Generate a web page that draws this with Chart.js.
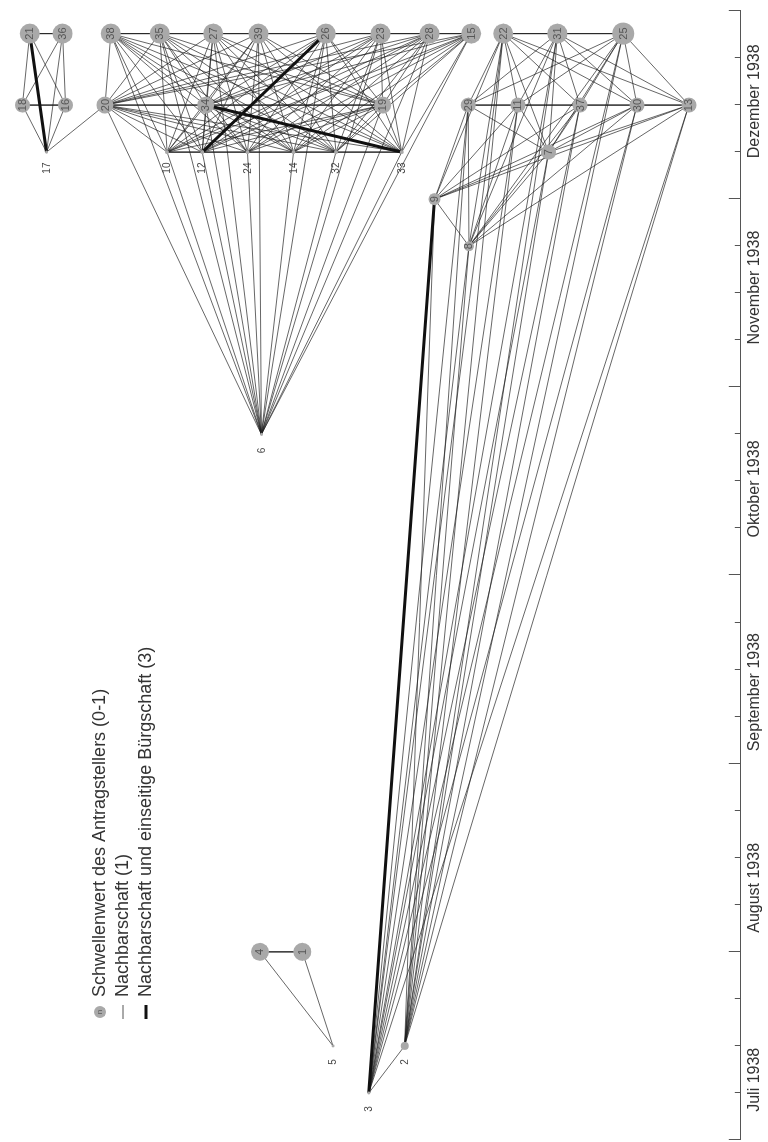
<!DOCTYPE html>
<html>
<head>
<meta charset="utf-8">
<script src="https://cdn.jsdelivr.net/npm/chart.js@4.4.1/dist/chart.umd.min.js"></script>
<style>
    html, body { margin: 0; padding: 0; background: #fff; width: 768px; height: 1142px; overflow: hidden; }
    /* the network is drawn in landscape and turned so that time runs upwards */
    #wrap { position: absolute; left: 0; top: 0; width: 1150px; height: 768px;
            transform-origin: 0 0; transform: translate(0, 1150px) rotate(-90deg); }
</style>
</head>
<body>
<div id="wrap"><canvas id="chart" width="1150" height="768"></canvas></div>
<script>
const monate = ['Juli 1938', 'August 1938', 'September 1938', 'Oktober 1938', 'November 1938', 'Dezember 1938'];
// where the month names sit on the time axis (months from 1 July 1938)
const monatsEtikett = [0.32, 1.34, 2.38, 3.46, 4.53, 5.52];

// Antragsteller: Nummer, Zeitpunkt (Monate ab 1. Juli 1938), Ebene im Layout, Schwellenwert
const knoten = [21, 36, 18, 16, 17, 20, 38, 35, 27, 39, 26, 23, 28, 15, 34, 19, 10, 12, 24, 14, 32, 33, 6,
    22, 31, 25, 29, 11, 37, 30, 13, 7, 9, 8, 2, 3, 4, 1, 5];
const zeit = [5.88, 5.88, 5.5, 5.5, 5.25, 5.5, 5.88, 5.88, 5.88, 5.88, 5.88, 5.88, 5.88, 5.88, 5.5, 5.5,
    5.25, 5.25, 5.25, 5.25, 5.25, 5.25, 3.75,
    5.88, 5.88, 5.88, 5.5, 5.5, 5.5, 5.5, 5.5, 5.25, 5.0, 4.75, 0.5, 0.25, 1.0, 1.0, 0.5];
const ebene = [2.7, 7.2, 1.7, 7.6, 5.0, 13.0, 13.8, 20.5, 27.8, 34.0, 43.2, 50.7, 57.4, 63.1, 26.8, 51.0,
    21.5, 26.3, 32.5, 38.8, 44.6, 53.6, 34.4,
    67.5, 74.9, 83.9, 62.7, 69.5, 78.0, 85.8, 92.9, 73.7, 58.1, 62.8, 54.0, 49.1, 34.2, 40.0, 44.2];
const schwelle = [0.85, 0.85, 0.6, 0.6, 0, 0.7, 0.85, 0.85, 0.85, 0.85, 0.85, 0.85, 0.85, 0.85, 0.7, 0.7,
    0.05, 0.05, 0.05, 0.05, 0.05, 0.05, 0,
    0.85, 0.85, 0.95, 0.6, 0.6, 0.6, 0.6, 0.6, 0.6, 0.45, 0.35, 0.25, 0, 0.75, 0.75, 0];

// Nachbarschaft (1): Knoten und seine Nachbarn
const nachbarschaft = [
    [21, [36, 18, 16]],
    [36, [18, 16, 17]],
    [18, [16, 17]],
    [16, [17]],
    [17, [20]],
    [38, [35, 20, 34, 19, 10, 12, 24, 14, 32, 33, 6]],
    [35, [27, 20, 34, 19, 10, 12, 24, 14, 32, 33, 6]],
    [27, [39, 20, 34, 19, 10, 12, 24, 14, 32, 33, 6]],
    [39, [26, 20, 34, 19, 10, 12, 24, 14, 32, 33, 6]],
    [26, [23, 20, 34, 19, 10, 24, 14, 32, 33, 6]],
    [23, [28, 20, 34, 19, 10, 12, 24, 14, 32, 33, 6]],
    [28, [15, 20, 34, 19, 10, 12, 24, 14, 32, 33, 6]],
    [15, [20, 34, 19, 10, 12, 24, 14, 32, 33, 6]],
    [20, [34, 10, 12, 24, 14, 32, 33, 6]],
    [34, [19, 10, 12, 24, 14, 32, 6]],
    [19, [10, 12, 24, 14, 32, 33, 6]],
    [10, [12, 6]],
    [12, [24, 6]],
    [24, [14, 6]],
    [14, [32, 6]],
    [32, [33, 6]],
    [33, [6]],
    [22, [31, 29, 11, 37, 30, 13, 7, 9, 8, 2, 3]],
    [31, [25, 29, 11, 37, 30, 13, 7, 8, 2, 3]],
    [25, [29, 11, 37, 30, 13, 7, 8, 2, 3]],
    [29, [11, 7, 9, 8, 2, 3]],
    [11, [37, 7, 9, 8, 2, 3]],
    [37, [30, 7, 9, 8, 2, 3]],
    [30, [13, 7, 9, 8, 2, 3]],
    [13, [7, 9, 8, 2, 3]],
    [7, [9, 8, 2, 3]],
    [9, [8, 2]],
    [8, [2, 3]],
    [2, [3]],
    [4, [1, 5]],
    [1, [5]],
];

// Nachbarschaft und einseitige Bürgschaft (3)
const buergschaft = [[21, 17], [12, 26], [34, 33], [9, 3]];

const grau = '#a9a9a9';

function punkt(id) {
    const i = knoten.indexOf(id);
    return { x: zeit[i], y: ebene[i] };
}

function linien(paare) {
    const data = [];
    paare.forEach(([a, b]) => {
        data.push(punkt(a), punkt(b), { x: punkt(a).x, y: null });
    });
    return data;
}

const duenn = [];
nachbarschaft.forEach(([a, liste]) => liste.forEach((b) => duenn.push([a, b])));

const radien = schwelle.map((s) => 1.5 + 10 * s);

function istViertel(v) {
    return Math.abs(v * 4 - Math.round(v * 4)) < 1e-6;
}

const knotenLabels = {
    id: 'knotenLabels',
    afterDatasetsDraw(chart) {
        const ctx = chart.ctx;
        const meta = chart.getDatasetMeta(2);
        ctx.save();
        ctx.textAlign = 'center';
        ctx.textBaseline = 'middle';
        meta.data.forEach((el, i) => {
            if (schwelle[i] >= 0.3) {
                ctx.font = '11px "Liberation Sans", Arial, sans-serif';
                ctx.fillStyle = '#555';
                ctx.fillText(String(knoten[i]), el.x, el.y + 0.5);
            } else {
                ctx.font = '10px "Liberation Sans", Arial, sans-serif';
                ctx.fillStyle = '#444';
                ctx.fillText(String(knoten[i]), el.x - 16, el.y + 0.5);
            }
        });
        ctx.restore();
    },
};

const achseUndLegende = {
    id: 'achseUndLegende',
    afterDraw(chart) {
        const ctx = chart.ctx;
        const x = chart.scales.x;
        ctx.save();
        ctx.strokeStyle = '#555';
        ctx.lineWidth = 1;
        x.ticks.forEach((t) => {
            if (!istViertel(t.value)) {
                return;
            }
            const px = Math.round(x.getPixelForValue(t.value)) + 0.5;
            const lang = Math.abs(t.value - Math.round(t.value)) < 1e-6;
            ctx.beginPath();
            ctx.moveTo(px, x.top);
            ctx.lineTo(px, x.top - (lang ? 12 : 6));
            ctx.stroke();
        });

        // Legende
        const lx = 138;
        const tx = 153;
        const zeilen = [100, 123, 146];
        ctx.font = '18px "Liberation Sans", Arial, sans-serif';
        ctx.textBaseline = 'middle';
        ctx.fillStyle = '#333';
        ctx.fillText('Schwellenwert des Antragstellers (0-1)', tx, zeilen[0]);
        ctx.fillText('Nachbarschaft (1)', tx, zeilen[1]);
        ctx.fillText('Nachbarschaft und einseitige Bürgschaft (3)', tx, zeilen[2]);

        ctx.fillStyle = grau;
        ctx.beginPath();
        ctx.arc(lx, zeilen[0], 6, 0, Math.PI * 2);
        ctx.fill();
        ctx.fillStyle = '#555';
        ctx.font = '8px "Liberation Sans", Arial, sans-serif';
        ctx.textAlign = 'center';
        ctx.fillText('n', lx, zeilen[0]);

        ctx.strokeStyle = '#555';
        ctx.lineWidth = 1;
        ctx.beginPath();
        ctx.moveTo(lx - 7, zeilen[1]);
        ctx.lineTo(lx + 7, zeilen[1]);
        ctx.stroke();
        ctx.strokeStyle = '#111';
        ctx.lineWidth = 3;
        ctx.beginPath();
        ctx.moveTo(lx - 7, zeilen[2]);
        ctx.lineTo(lx + 7, zeilen[2]);
        ctx.stroke();
        ctx.restore();
    },
};

new Chart(document.getElementById('chart').getContext('2d'), {
    type: 'line',
    data: {
        datasets: [
            {
                label: 'Nachbarschaft (1)',
                data: linien(duenn),
                borderColor: 'rgba(30, 30, 30, 0.8)',
                borderWidth: 0.85,
                pointRadius: 0,
                tension: 0,
                spanGaps: false,
                segment: {},
                clip: false,
                order: 2,
            },
            {
                label: 'Nachbarschaft und einseitige Bürgschaft (3)',
                data: linien(buergschaft),
                borderColor: '#111',
                borderWidth: 3,
                pointRadius: 0,
                tension: 0,
                spanGaps: false,
                clip: false,
                order: 1,
            },
            {
                label: 'Schwellenwert des Antragstellers (0-1)',
                data: knoten.map((id) => punkt(id)),
                showLine: false,
                pointRadius: radien,
                pointHoverRadius: radien,
                pointBackgroundColor: grau,
                pointBorderWidth: 0,
                clip: false,
                order: 0,
            },
        ],
    },
    options: {
        responsive: false,
        animation: false,
        devicePixelRatio: 1,
        events: [],
        layout: {
            padding: { left: 5, right: 11, top: 0, bottom: 0 },
        },
        plugins: {
            legend: { display: false },
            tooltip: { enabled: false },
        },
        scales: {
            x: {
                type: 'linear',
                position: 'bottom',
                min: 0,
                max: 6,
                grid: { display: false, drawTicks: false },
                border: { display: true, color: '#555', width: 1 },
                afterBuildTicks: function (scale) {
                    const werte = [];
                    for (let v = 0; v <= 6; v += 0.25) {
                        werte.push(v);
                    }
                    monatsEtikett.forEach((v) => werte.push(v));
                    werte.sort((a, b) => a - b);
                    scale.ticks = werte.map((v) => ({ value: v }));
                },
                ticks: {
                    autoSkip: false,
                    maxRotation: 0,
                    minRotation: 0,
                    padding: 4,
                    color: '#333',
                    font: { family: '"Liberation Sans", Arial, sans-serif', size: 16 },
                    callback: function (value) {
                        const k = monatsEtikett.findIndex((v) => Math.abs(v - value) < 1e-6);
                        return k >= 0 ? monate[k] : '';
                    },
                },
            },
            y: {
                type: 'linear',
                display: false,
                reverse: true,
                min: 0,
                max: 100,
            },
        },
    },
    plugins: [knotenLabels, achseUndLegende],
});
</script>
</body>
</html>
